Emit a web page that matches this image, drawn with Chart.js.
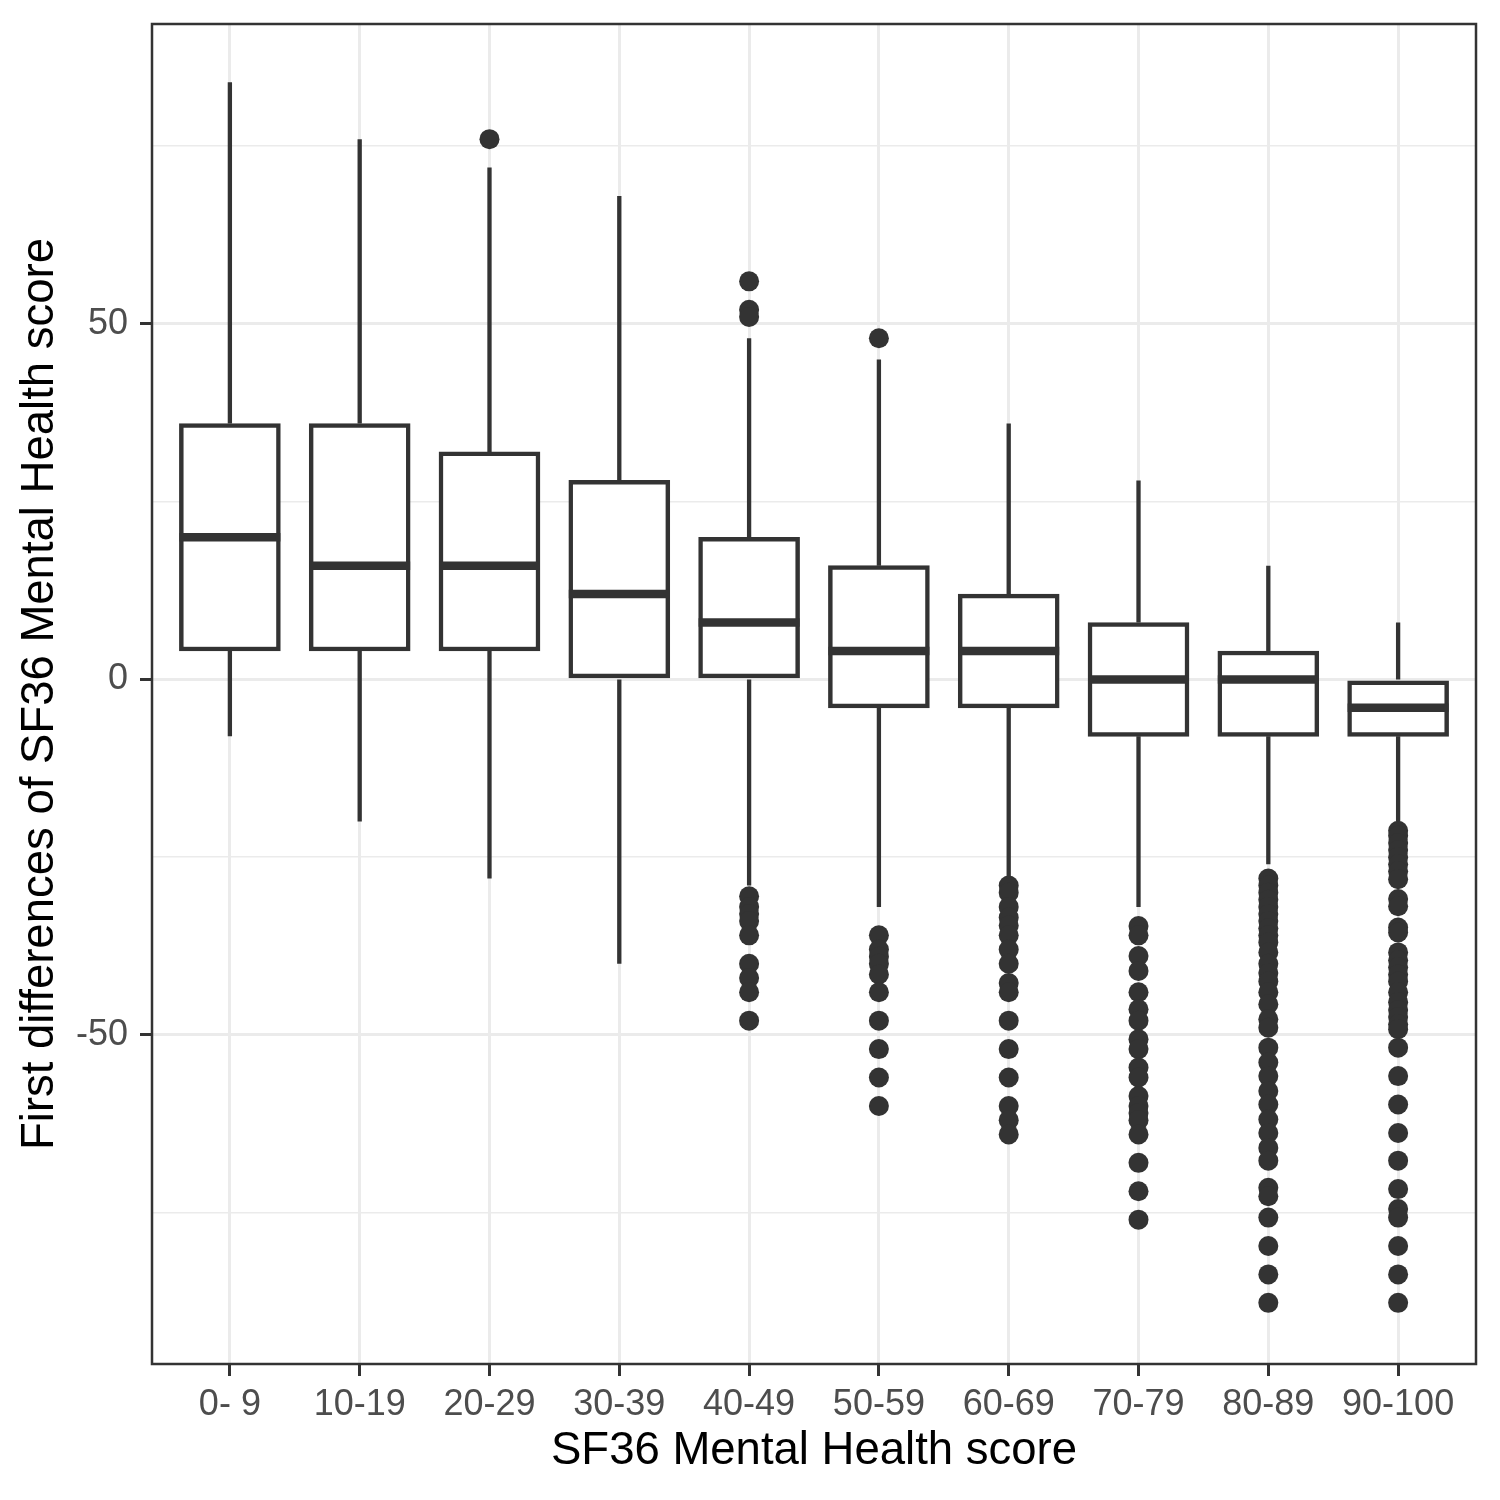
<!DOCTYPE html>
<html lang="en">
<head>
    <meta charset="UTF-8">
    <title>SF36 Mental Health first differences</title>
    <script src="https://cdn.jsdelivr.net/npm/chart.js"></script>
    <style>
        body { margin: 0; background: #ffffff; }
        canvas { display: block; }
    </style>
</head>
<body>
    <canvas id="boxChart" width="1500" height="1500"></canvas>

    <script>
        // Categories (SF36 Mental Health score bands)
        const categories = ['0- 9', '10-19', '20-29', '30-39', '40-49', '50-59', '60-69', '70-79', '80-89', '90-100'];

        // Box summary values
        const whiskerHigh = [84, 76, 72, 68, 48, 45, 36, 28, 16, 8];
        const q3          = [36, 36, 32, 28, 20, 16, 12, 8, 4, 0];
        const median      = [20, 16, 16, 12, 8, 4, 4, 0, 0, -4];
        const q1          = [4, 4, 4, 0, 0, -4, -4, -8, -8, -8];
        const whiskerLow  = [-8, -20, -28, -40, -29, -32, -28, -32, -26, -20];

        // Outliers per category
        const outliers = [
            [],
            [],
            [76],
            [],
            [56, 52, 51, -30.5, -32, -33, -34, -36, -40, -42, -44, -48],
            [48, -36, -38, -39, -40, -41.5, -44, -48, -52, -56, -60],
            [-29, -30, -32, -33.5, -34.6, -36, -38, -40, -42.7, -44, -48, -52, -56, -60, -62, -64],
            [-34.7, -36, -38.9, -41, -44, -46.4, -48, -50.6, -52, -54.6, -56, -58.6, -60, -61, -62, -64, -68, -72, -76],
            [-28, -29, -30, -31, -32, -33, -34, -35, -36, -37, -38.4, -40, -41.3, -42.5, -44, -45.7, -47.8, -49,
             -51.8, -53.9, -55.8, -57.9, -59.8, -61.9, -63.8, -65.9, -67.7, -71.5, -72.7, -75.7, -79.7, -83.7, -87.7],
            [-21.3, -22, -23, -24, -25, -26, -27, -28.1, -30.9, -31.9, -34.9, -35.6, -38.4, -39.5, -40.5, -41.5,
             -42.5, -44, -45.4, -46.5, -47.5, -48.5, -49.2, -51.8, -55.8, -59.8, -63.8, -67.7, -71.7, -74.5, -75.7,
             -79.7, -83.7, -87.7]
        ];

        // Y axis tick values (labels only on the majors)
        const yTicks = [-75, -50, -25, 0, 25, 50, 75];
        const yMajor = [-50, 0, 50];

        const ink = '#333333';
        const gridCol = '#EBEBEB';

        // whiskers, medians and the panel border
        const boxLines = {
            id: 'boxLines',
            afterDatasetsDraw(chart) {
                const { ctx, chartArea } = chart;
                const x = chart.scales.x;
                const y = chart.scales.y;
                ctx.save();
                ctx.strokeStyle = ink;
                ctx.lineCap = 'butt';
                categories.forEach((c, i) => {
                    const cx = x.getPixelForValue(i);
                    ctx.lineWidth = 4.3;
                    ctx.beginPath();
                    ctx.moveTo(cx, y.getPixelForValue(q3[i]));
                    ctx.lineTo(cx, y.getPixelForValue(whiskerHigh[i]));
                    ctx.moveTo(cx, y.getPixelForValue(q1[i]));
                    ctx.lineTo(cx, y.getPixelForValue(whiskerLow[i]));
                    ctx.stroke();

                    ctx.lineWidth = 8.5;
                    ctx.beginPath();
                    ctx.moveTo(x.getPixelForValue(i - 0.389), y.getPixelForValue(median[i]));
                    ctx.lineTo(x.getPixelForValue(i + 0.389), y.getPixelForValue(median[i]));
                    ctx.stroke();
                });
                ctx.lineWidth = 2.5;
                ctx.strokeRect(chartArea.left, chartArea.top, chartArea.width, chartArea.height);
                ctx.restore();
            }
        };

        const boxData = categories.map((c, i) => ({ x: i, y: [q1[i], q3[i]] }));
        const outlierData = [];
        outliers.forEach((list, i) => list.forEach(v => outlierData.push({ x: i, y: v })));

        new Chart(document.getElementById('boxChart').getContext('2d'), {
            type: 'bar',
            data: {
                datasets: [
                    {
                        type: 'scatter',
                        label: 'Outliers',
                        data: outlierData,
                        pointRadius: 10,
                        pointHoverRadius: 10,
                        pointBackgroundColor: ink,
                        pointBorderWidth: 0,
                        showLine: false
                    },
                    {
                        type: 'bar',
                        label: 'Box',
                        data: boxData,
                        backgroundColor: '#ffffff',
                        borderColor: ink,
                        borderWidth: 4.5,
                        borderSkipped: false,
                        barThickness: 101
                    }
                ]
            },
            options: {
                responsive: false,
                devicePixelRatio: 1,
                animation: false,
                layout: { padding: { top: 24, right: 24, left: 0, bottom: 0 } },
                plugins: {
                    legend: { display: false },
                    tooltip: { enabled: false }
                },
                scales: {
                    x: {
                        type: 'linear',
                        offset: false,
                        min: -0.6,
                        max: 9.6,
                        afterFit: (scale) => {
                            scale.height = 136;
                            scale.paddingLeft = 0;
                            scale.paddingRight = 0;
                        },
                        afterBuildTicks: (scale) => { scale.ticks = categories.map((c, i) => ({ value: i })); },
                        border: { display: false },
                        grid: {
                            offset: false,
                            color: gridCol,
                            lineWidth: 3,
                            tickColor: ink,
                            tickLength: 12,
                            tickWidth: 3
                        },
                        ticks: {
                            callback: (v) => categories[v],
                            autoSkip: false,
                            maxRotation: 0,
                            padding: 7,
                            color: '#4D4D4D',
                            font: { family: 'Liberation Sans', size: 36 }
                        },
                        title: {
                            display: true,
                            text: 'SF36 Mental Health score',
                            color: '#000000',
                            font: { family: 'Liberation Sans', size: 45.5 },
                            padding: { top: 0, bottom: 21 }
                        }
                    },
                    y: {
                        type: 'linear',
                        min: -96.3,
                        max: 92.2,
                        afterFit: (scale) => {
                            scale.width = 152;
                            scale.paddingTop = 0;
                            scale.paddingBottom = 0;
                        },
                        afterBuildTicks: (scale) => { scale.ticks = yTicks.map(v => ({ value: v })); },
                        border: { display: false },
                        grid: {
                            color: gridCol,
                            lineWidth: (ctx) => yMajor.includes(ctx.tick.value) ? 3 : 1.6,
                            tickColor: (ctx) => yMajor.includes(ctx.tick.value) ? ink : 'rgba(0,0,0,0)',
                            tickLength: 12,
                            tickWidth: 3
                        },
                        ticks: {
                            callback: (v) => yMajor.includes(v) ? String(v) : '',
                            padding: 12,
                            color: '#4D4D4D',
                            font: { family: 'Liberation Sans', size: 36 }
                        },
                        title: {
                            display: true,
                            text: 'First differences of SF36 Mental Health score',
                            color: '#000000',
                            font: { family: 'Liberation Sans', size: 45.5 },
                            padding: { top: 13, bottom: 0 }
                        }
                    }
                }
            },
            plugins: [boxLines]
        });
    </script>
</body>
</html>
